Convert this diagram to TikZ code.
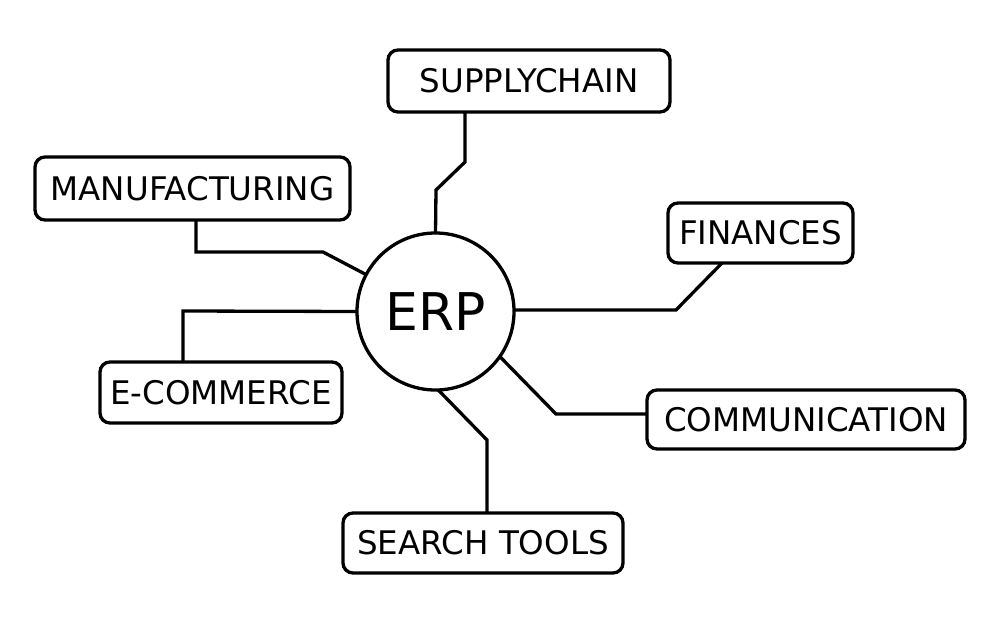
\documentclass[tikz,border=0pt]{standalone}
\usepackage{fontspec}
\setmainfont{DejaVu Sans}
\begin{document}
\begin{tikzpicture}[x=1pt,y=1pt,
  box/.style={draw, line width=3.3pt, rounded corners=10pt, inner sep=0pt, outer sep=0pt, font=\fontsize{32.5}{38}\selectfont},
  link/.style={line width=3.3pt, line cap=butt, line join=miter}]
\useasboundingbox (0,0) rectangle (1000,625);
\node[draw, circle, line width=3.3pt, minimum size=157pt, inner sep=0pt, outer sep=0pt, font=\fontsize{52}{62}\selectfont] (erp) at (435.5,313.5) {ERP};
\node[box, minimum width=282pt, minimum height=62pt] (sc) at (529,544) {SUPPLYCHAIN};
\node[box, minimum width=315pt, minimum height=63pt] (mf) at (192.5,436.5) {MANUFACTURING};
\node[box, minimum width=242pt, minimum height=61pt] (ec) at (221,232.5) {E-COMMERCE};
\node[box, minimum width=185pt, minimum height=60pt] (fi) at (760.5,392) {FINANCES};
\node[box, minimum width=318pt, minimum height=59pt] (co) at (806,205.5) {COMMUNICATION};
\node[box, minimum width=280pt, minimum height=60pt] (st) at (483,82) {SEARCH TOOLS};
\draw[link] (sc.south -| 465,0) -- (465,463) -- (436,435) -- (erp.north);
\draw[link] (mf.south -| 196,0) -- (196,373) -- (323,373) -- (erp.152.6);
\draw[link] (ec.north -| 183,0) -- (183,314) -- (erp.west);
\draw[link] (fi.south -| 722,0) -- (676,315) -- (erp.east |- 0,315);
\draw[link] (co.west |- 0,211) -- (556,211) -- (erp.-35.8);
\draw[link] (st.north -| 487,0) -- (487,185) -- (erp.-88);
\end{tikzpicture}
\end{document}
